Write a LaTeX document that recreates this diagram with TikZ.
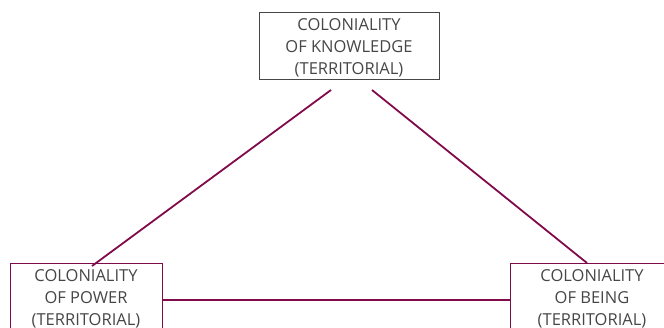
\documentclass[tikz,border=0pt]{standalone}
\usepackage{fontspec}
\setmainfont{Open Sans}
\definecolor{plum}{RGB}{128,10,74}
\definecolor{txt}{RGB}{70,70,70}
\definecolor{gbox}{RGB}{70,70,70}
\begin{document}
\begin{tikzpicture}[x=1pt,y=1pt,
  lbl/.style={align=center,font=\fontsize{16.5}{22}\selectfont,text=txt,inner sep=0pt,minimum height=67pt},
  topbox/.style={lbl,draw=gbox,line width=0.7pt,minimum width=180pt},
  botbox/.style={lbl,draw=plum,line width=0.7pt},
  link/.style={draw=plum,line width=1.8pt}]
\useasboundingbox (0,0) rectangle (664,327);
\node[topbox] (k) at (349,281.5) {};
\node[lbl] (kt) at (349,279.5) {COLONIALITY\\OF KNOWLEDGE\\(TERRITORIAL)};
\node[botbox,minimum width=152pt] (p) at (86,30.5) {};
\node[lbl] (pt) at (86,28.5) {COLONIALITY\\OF POWER\\(TERRITORIAL)};
\node[botbox,minimum width=164pt] (b) at (592,30.5) {};
\node[lbl] (bt) at (592,28.5) {COLONIALITY\\OF BEING\\(TERRITORIAL)};
\coordinate (k1) at (331,237);
\coordinate (k2) at (372,237);
\coordinate (p1) at (92,61);
\coordinate (b1) at (587,64);
\draw[link] (k1) -- (p1);
\draw[link] (k2) -- (b1);
\draw[link] (p.east |- 0,27) -- (b.west |- 0,27);
\end{tikzpicture}
\end{document}
